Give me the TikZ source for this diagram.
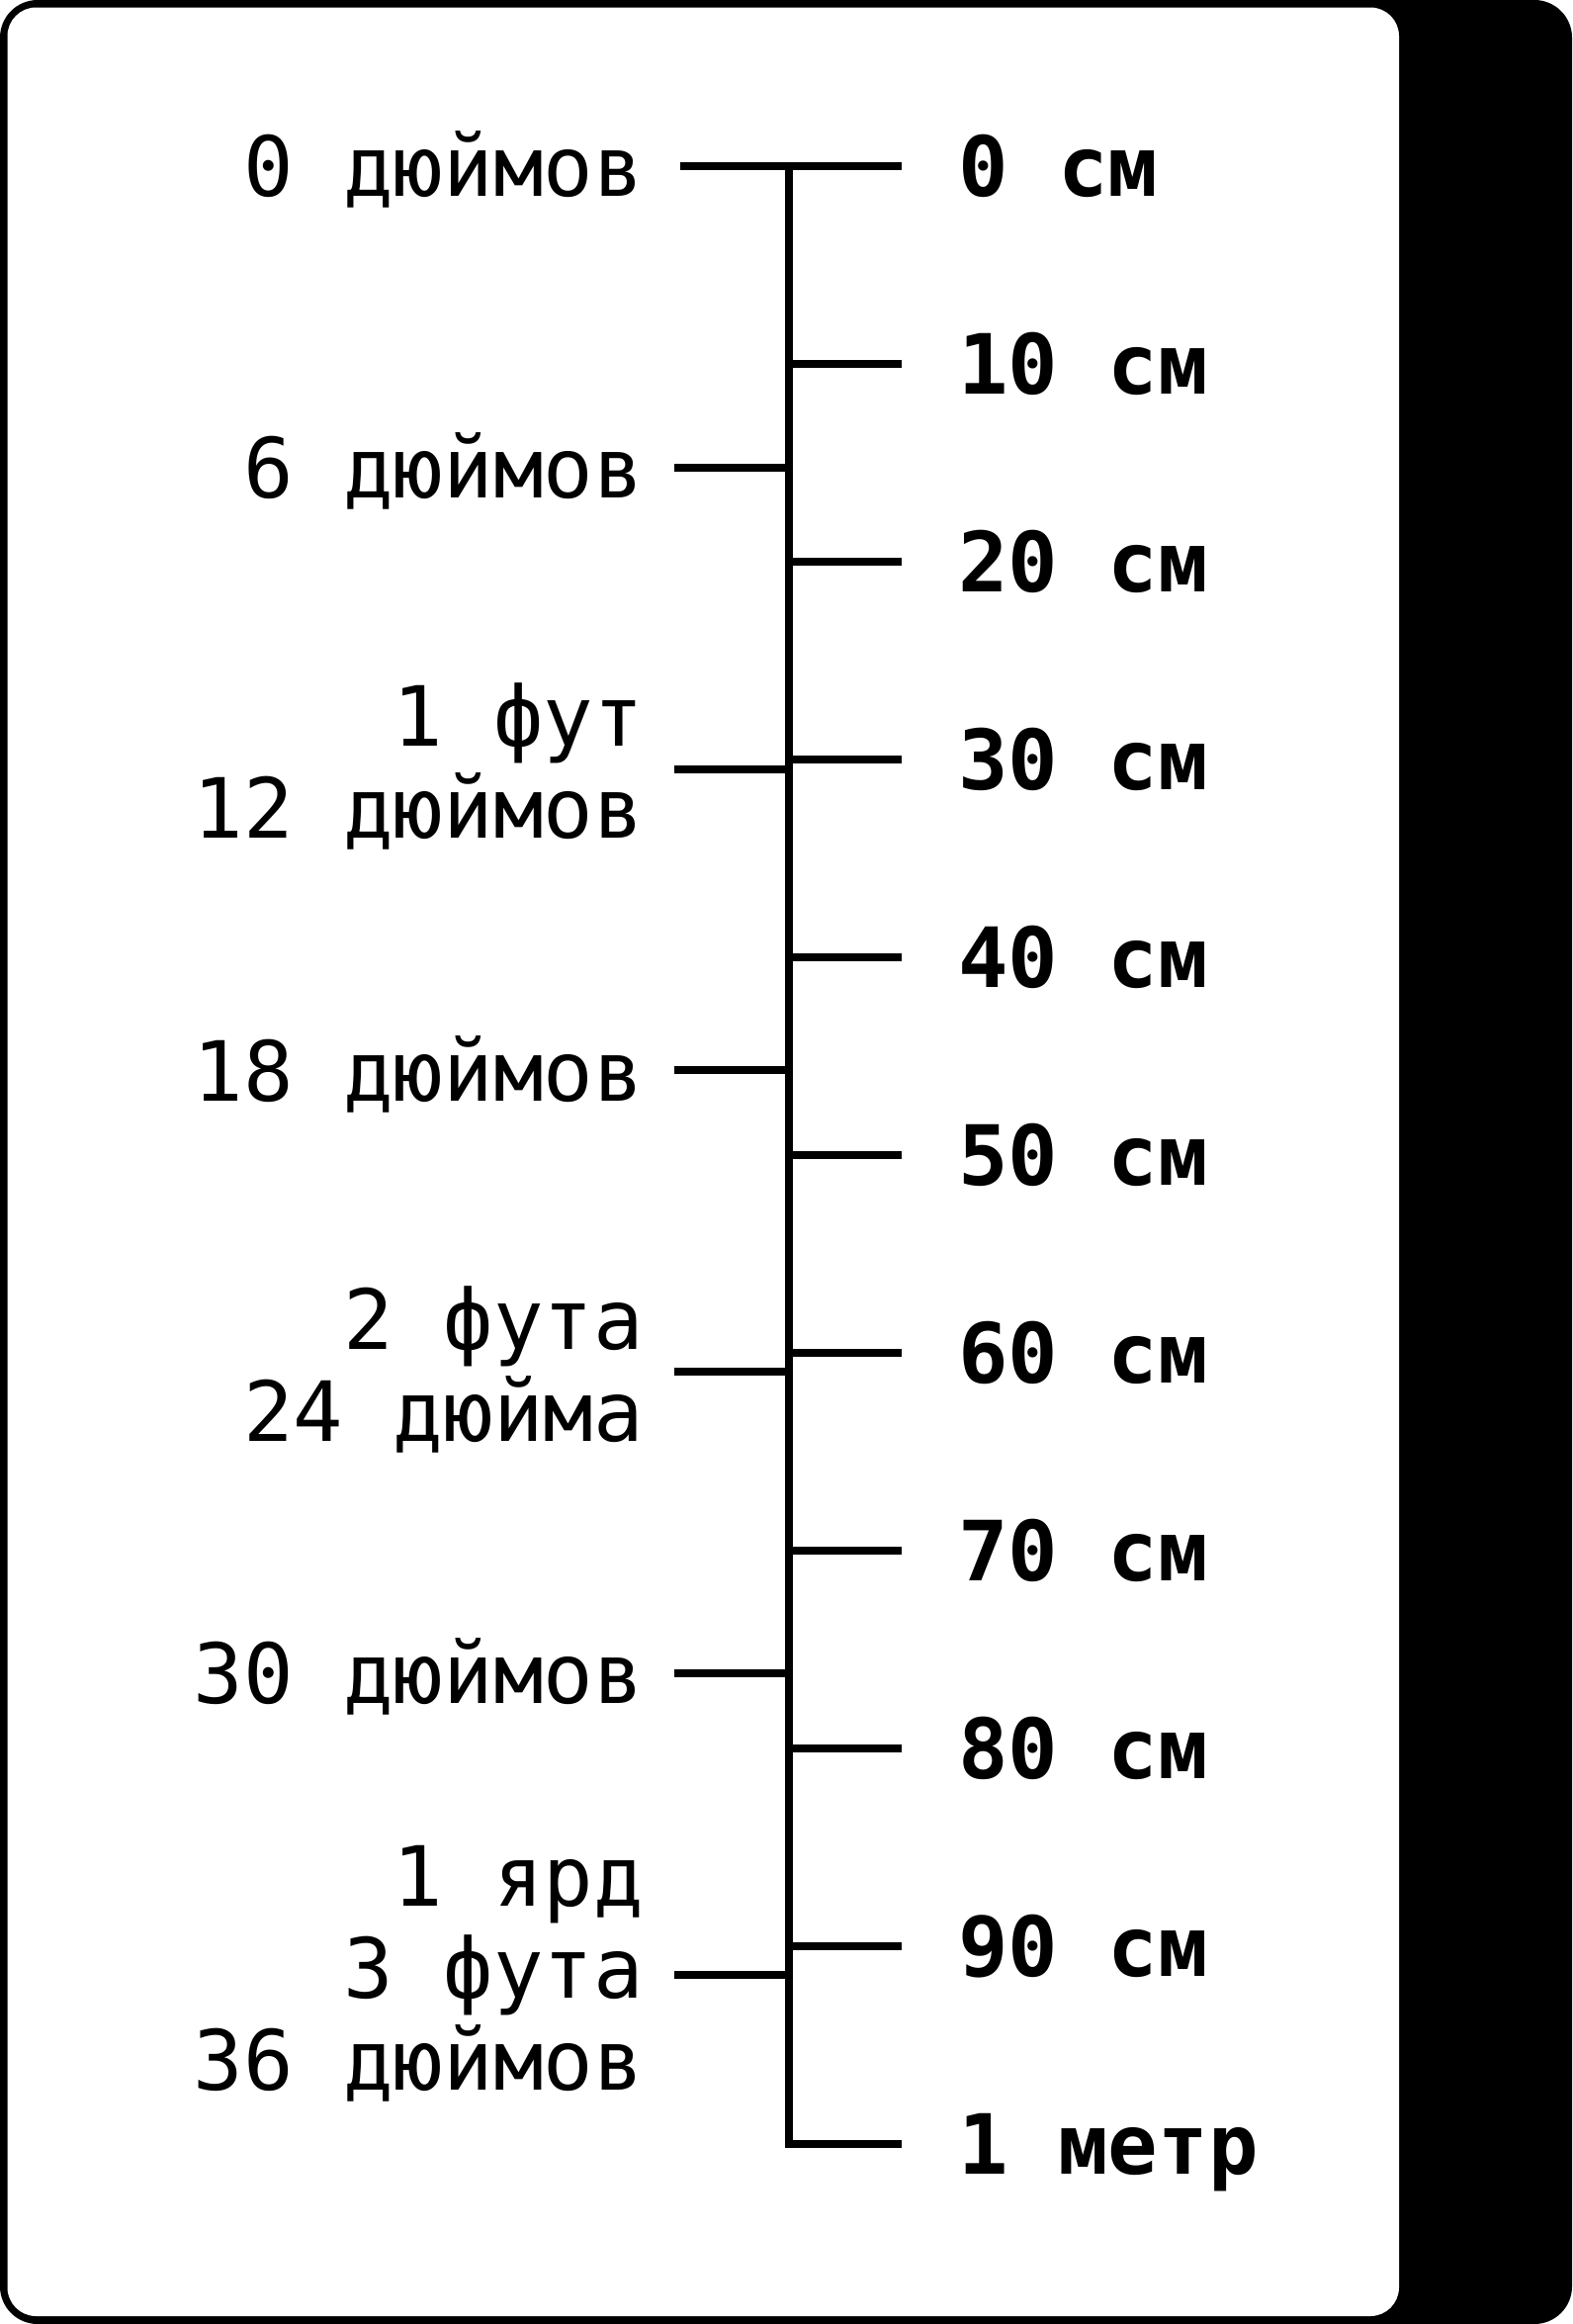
\documentclass[tikz,border=0pt]{standalone}
\usepackage{fontspec}
\setmonofont{DejaVu Sans Mono}
\newcommand\lbtop{\rule{0pt}{1.0645em}}
\newcommand\lbbot{\rule[-0.3355em]{0pt}{0.3355em}}
\begin{document}
\begin{tikzpicture}[x=1pt,y=-1pt,
  tick/.style={line width=8pt, line join=miter},
  inlab/.style={anchor=east, inner sep=0pt, align=right, font=\ttfamily\fontsize{84}{93}\selectfont},
  cmlab/.style={anchor=west, inner sep=0pt, font=\ttfamily\bfseries\fontsize{84}{93}\selectfont}]
\useasboundingbox (0,0) rectangle (1590,2350);
% card with black shadow
\fill[black, rounded corners=38pt] (0,0) rectangle (1590,2350);
\fill[white, rounded corners=29pt] (7.5,7.5) rectangle (1415,2342);
% axis
\coordinate (ca0) at (798,168);
\coordinate (ca10) at (798,2168);
\coordinate (cb10) at (912,2168);
\draw[tick] (ca0) -- (ca10) -- (cb10);
% centimetre ticks and labels
\foreach \k/\t in {0/0 см,1/10 см,2/20 см,3/30 см,4/40 см,5/50 см,6/60 см,7/70 см,8/80 см,9/90 см,10/1 метр}{
  \coordinate (cx\k) at (798,168+200*\k);
  \coordinate (cb\k) at (912,168+200*\k);
  \draw[tick] (cx\k) -- (cb\k);
  \node[cmlab] (cl\k) at (969,168+200*\k) {\lbtop\t\lbbot};
}
% inch ticks and labels
\coordinate (ia0) at (688,168);
\coordinate (ix0) at (798,168);
\draw[tick] (ia0) -- (ix0);
\node[inlab] (il0) at (651,168) {\lbtop 0 дюймов\lbbot};
\foreach \i/\t/\s in {6/6 дюймов/0,18/18 дюймов/0,30/30 дюймов/0,12/{1 фут\\12 дюймов}/7,24/{2 фута\\24 дюйма}/7,36/{1 ярд\\3 фута\\36 дюймов}/7}{
  \coordinate (ia\i) at (682,168+50.8*\i);
  \coordinate (ix\i) at (798,168+50.8*\i);
  \draw[tick] (ia\i) -- (ix\i);
  \node[inlab] (il\i) at (651,168+50.8*\i-\s) {\lbtop\t\lbbot};
}
\end{tikzpicture}
\end{document}
